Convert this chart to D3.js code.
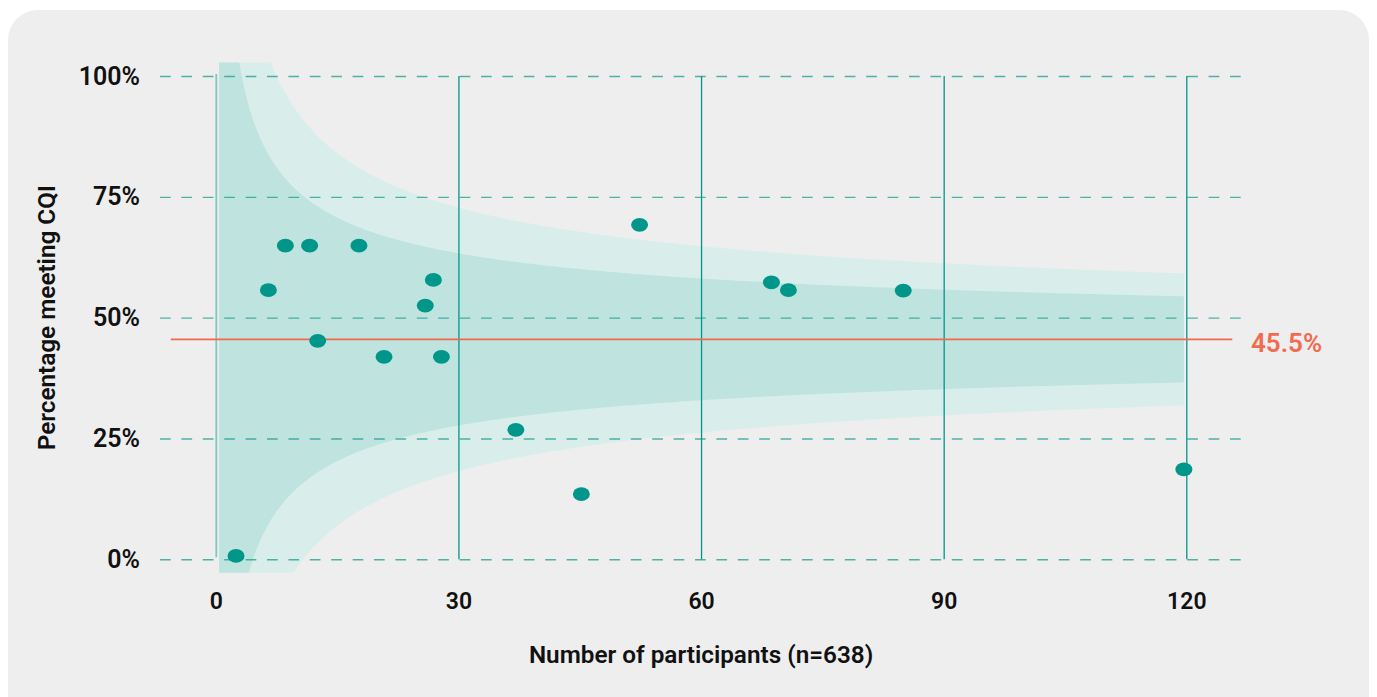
<!DOCTYPE html>
<html>
<head>
<meta charset="utf-8">
<script src="https://cdn.jsdelivr.net/npm/d3@7"></script>
<style>
  html, body { margin: 0; padding: 0; background: #ffffff; }
  svg { display: block; }
  text { font-family: Roboto, "Noto Sans", sans-serif; }
</style>
</head>
<body>
<svg id="chart" width="1377" height="697"></svg>
<script>
// Units: number of participants per unit and share meeting the CQI (%)
const participants = [2.5, 6.5, 8.6, 11.6, 12.6, 17.7, 20.8, 25.9, 26.9, 27.9, 37.1, 45.2, 52.4, 68.7, 70.8, 85.0, 119.7];
const pctMeeting   = [0.7, 55.7, 64.9, 64.9, 45.2, 64.9, 41.9, 52.5, 57.8, 41.9, 26.8, 13.5, 69.2, 57.3, 55.7, 55.6, 18.6];

// Axis ticks
const xTicks = [0, 30, 60, 90, 120];
const yTicks = [0, 25, 50, 75, 100];

// Overall rate and control-limit settings
const overallRate = 45.5;          // %
const innerZ = 1.96;               // 95% limits
const outerZ = 3;                  // 99.8% limits
const limitFloor = -2.8, limitCeil = 102.8;
const limitStartN = 0.4;

const FONT_W = 600;

const svg = d3.select("#chart");

// Card
svg.append("rect")
  .attr("x", 8).attr("y", 10)
  .attr("width", 1361).attr("height", 740)
  .attr("rx", 30).attr("ry", 30)
  .attr("fill", "#eeeeee");

const x = d3.scaleLinear().domain([0, 120]).range([215.8, 1186.3]);
const y = d3.scaleLinear().domain([0, 100]).range([559.3, 76]);

// Funnel control limits around the overall rate
const p = overallRate / 100;
const nMax = d3.max(participants);
const nGrid = d3.range(limitStartN, 10, 0.05).concat(d3.range(10, nMax, 0.5), [nMax]);
const clamp = v => Math.max(limitFloor, Math.min(limitCeil, v));
const limits = z => nGrid.map(n => {
  const se = Math.sqrt(p * (1 - p) / n) * 100;
  return { n, lo: clamp(overallRate - z * se), hi: clamp(overallRate + z * se) };
});
const band = d3.area()
  .x(d => x(d.n))
  .y0(d => y(d.lo))
  .y1(d => y(d.hi));

svg.append("path").datum(limits(outerZ)).attr("d", band).attr("fill", "#d9eeea");
svg.append("path").datum(limits(innerZ)).attr("d", band).attr("fill", "#bfe4df");

// Horizontal dashed gridlines + y labels
const gridLeft = 160, gridRight = 1242;
const yAxis = svg.append("g")
  .attr("transform", `translate(${gridLeft},0)`)
  .call(d3.axisLeft(y).tickValues(yTicks).tickFormat(d => d + "%")
    .tickSize(-(gridRight - gridLeft)).tickPadding(20));
yAxis.select(".domain").remove();
yAxis.selectAll(".tick line")
  .attr("stroke", "#0f9a8e").attr("stroke-opacity", 0.72)
  .attr("stroke-width", 1.4).attr("stroke-dasharray", "10.7,10.7");
yAxis.selectAll(".tick text")
  .attr("fill", "#111").attr("font-size", 25).attr("font-weight", FONT_W)
  .attr("font-family", "Roboto, sans-serif");

// Vertical gridlines + x labels
const xAxis = svg.append("g")
  .attr("transform", `translate(0,${y(0)})`)
  .call(d3.axisBottom(x).tickValues(xTicks)
    .tickSize(-(y(0) - y(100))).tickPadding(33));
xAxis.select(".domain").remove();
xAxis.selectAll(".tick line")
  .attr("stroke", "#00968a").attr("stroke-width", 1.3);
xAxis.selectAll(".tick").filter(d => d === 0).select("line")
  .attr("stroke", "#7fc8c0").attr("stroke-width", 1.8)
  .attr("y1", -2).attr("y2", -(y(0) - y(100)) - 2);
xAxis.selectAll(".tick text")
  .attr("fill", "#111").attr("font-size", 23).attr("font-weight", FONT_W)
  .attr("font-family", "Roboto, sans-serif");

// Overall rate line and label
const yRate = y(overallRate);
svg.append("line")
  .attr("x1", x.range()[0] - 45).attr("x2", x.range()[1] + 46)
  .attr("y1", yRate).attr("y2", yRate)
  .attr("stroke", "#f0694c").attr("stroke-width", 1.8);
svg.append("text")
  .attr("x", 1251).attr("y", yRate + 12.4)
  .attr("fill", "#f26b50").attr("font-size", 26).attr("font-weight", FONT_W)
  .text(overallRate + "%");

// Units
svg.append("g").selectAll("ellipse")
  .data(participants.map((n, i) => ({ n, v: pctMeeting[i] })))
  .join("ellipse")
  .attr("cx", d => x(d.n)).attr("cy", d => y(d.v))
  .attr("rx", 8.5).attr("ry", 6.9)
  .attr("fill", "#00968a");

// Axis titles
svg.append("text")
  .attr("x", (x.range()[0] + x.range()[1]) / 2).attr("y", 663)
  .attr("text-anchor", "middle")
  .attr("fill", "#111").attr("font-size", 24.3).attr("font-weight", FONT_W)
  .text("Number of participants (n=638)");

svg.append("text")
  .attr("transform", `translate(55,${(y(0) + y(100)) / 2}) rotate(-90)`)
  .attr("text-anchor", "middle")
  .attr("fill", "#111").attr("font-size", 24.3).attr("font-weight", FONT_W)
  .text("Percentage meeting CQI");
</script>
</body>
</html>
